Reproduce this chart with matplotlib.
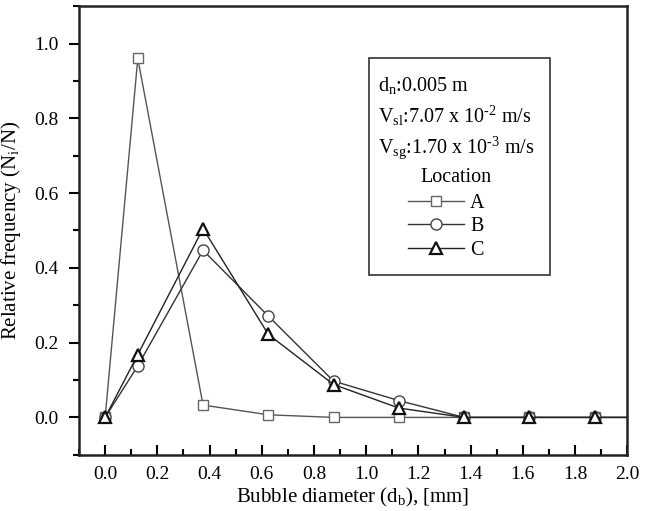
import matplotlib
matplotlib.use("Agg")
import matplotlib.pyplot as plt
from matplotlib.patches import Rectangle
from matplotlib.ticker import MultipleLocator

plt.rcParams['font.family'] = ['Liberation Serif', 'DejaVu Serif']
plt.rcParams['mathtext.fontset'] = 'custom'
plt.rcParams['mathtext.rm'] = 'Liberation Serif'
plt.rcParams['mathtext.it'] = 'Liberation Serif'
plt.rcParams['mathtext.default'] = 'rm'

diameter = [0.0, 0.125, 0.375, 0.625, 0.875, 1.125, 1.375, 1.625, 1.875, 2.125]
loc_A = [0.0, 0.960, 0.033, 0.007, 0.0, 0.0, 0.0, 0.0, 0.0, 0.0]
loc_B = [0.0, 0.138, 0.447, 0.271, 0.097, 0.045, 0.0, 0.0, 0.0, 0.0]
loc_C = [0.0, 0.168, 0.505, 0.222, 0.088, 0.025, 0.0, 0.0, 0.0, 0.0]
series_labels = ['A', 'B', 'C']
info_lines = ['d$_n$:0.005 m',
              'V$_{sl}$:7.07 x 10$^{\u2010 2}$ m/s',
              'V$_{sg}$:1.70 x 10$^{\u2010 3}$ m/s']

fig = plt.figure(figsize=(6.48, 5.11), dpi=100)
ax = fig.add_axes([0.122, 0.110, 0.846, 0.878])

ax.plot(diameter, loc_A, color='#555555', lw=1.0, marker='s', ms=7,
        mfc='white', mec='#666666', mew=1.0, label=series_labels[0], zorder=2)
ax.plot(diameter, loc_B, color='#333333', lw=1.0, marker='o', ms=8,
        mfc='white', mec='#444444', mew=1.0, label=series_labels[1], zorder=3)
ax.plot(diameter, loc_C, color='#222222', lw=1.0, marker='^', ms=9,
        mfc='white', mec='#111111', mew=1.6, label=series_labels[2], zorder=4)

ax.set_xlim(-0.1, 2.0)
ax.set_ylim(-0.1, 1.1)
ax.xaxis.set_major_locator(MultipleLocator(0.2))
ax.xaxis.set_minor_locator(MultipleLocator(0.1))
ax.yaxis.set_major_locator(MultipleLocator(0.2))
ax.yaxis.set_minor_locator(MultipleLocator(0.1))
ax.xaxis.set_major_formatter(matplotlib.ticker.FormatStrFormatter('%.1f'))
ax.yaxis.set_major_formatter(matplotlib.ticker.FormatStrFormatter('%.1f'))
ax.tick_params(axis='x', which='major', direction='in', length=7, width=1.5, labelsize=14, pad=8)
ax.tick_params(axis='x', which='minor', direction='in', length=4, width=1.5)
ax.tick_params(axis='y', which='major', direction='out', length=7, width=1.5, labelsize=14, pad=8)
ax.tick_params(axis='y', which='minor', direction='out', length=4, width=1.5)
for s in ax.spines.values():
    s.set_linewidth(1.8)
    s.set_color('#222222')

ax.set_xlabel('Bubble diameter (d$_b$), [mm]', fontsize=15, labelpad=2)
ax.set_ylabel('Relative frequency (N$_i$/N)', fontsize=15, labelpad=8)

ax.add_patch(Rectangle((0.529, 0.401), 0.330, 0.483, transform=ax.transAxes,
                       fill=False, ec='#333333', lw=1.2, zorder=5))
for y, t in zip([0.824, 0.755, 0.684], info_lines):
    ax.text(0.546, y, t, transform=ax.transAxes, fontsize=14.5, va='center', ha='left')
ax.text(0.688, 0.619, 'Location', transform=ax.transAxes, fontsize=14.5,
        va='center', ha='center')
ax.legend(loc='upper left', bbox_to_anchor=(0.585, 0.60), frameon=False,
          fontsize=14.5, handlelength=2.8, handletextpad=0.3, labelspacing=0.22,
          borderaxespad=0)

fig.savefig('out.png', dpi=100)
